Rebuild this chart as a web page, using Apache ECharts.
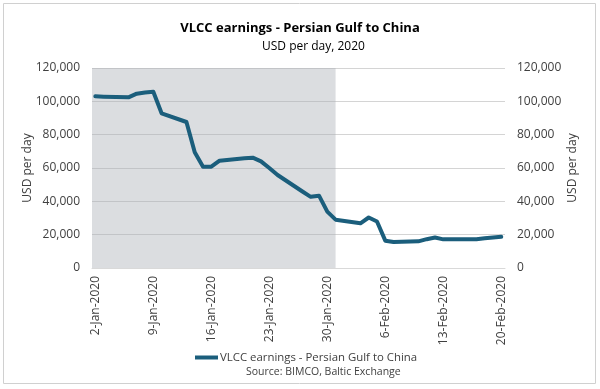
<!DOCTYPE html>
<html><head><meta charset="utf-8">
<script src="https://cdn.jsdelivr.net/npm/echarts@6/dist/echarts.min.js"></script>
<style>html,body{margin:0;padding:0;background:#fff}#c{width:600px;height:389px}</style>
</head><body><div id="c"></div>
<script>
const dates = ["2020-01-02","2020-01-03","2020-01-06","2020-01-07","2020-01-08","2020-01-09","2020-01-10",
"2020-01-13","2020-01-14","2020-01-15","2020-01-16","2020-01-17","2020-01-20","2020-01-21","2020-01-22",
"2020-01-23","2020-01-24","2020-01-27","2020-01-28","2020-01-29","2020-01-30","2020-01-31",
"2020-02-03","2020-02-04","2020-02-05","2020-02-06","2020-02-07","2020-02-10","2020-02-11","2020-02-12",
"2020-02-13","2020-02-14","2020-02-17","2020-02-18","2020-02-19","2020-02-20"];
const earnings = [103000,102800,102400,104600,105300,105800,92800,
87600,69500,60800,60800,64400,65800,66200,64000,
60000,55800,45900,42700,43400,33800,29000,
26800,30300,27900,16400,15600,16000,17300,18300,
17200,17200,17200,17800,18300,18700];
const tickDates = ["2020-01-02","2020-01-09","2020-01-16","2020-01-23","2020-01-30","2020-02-06","2020-02-13","2020-02-20"];
const shadeEnd = "2020-01-31";
const seriesName = "VLCC earnings - Persian Gulf to China";
const titleText = "VLCC earnings - Persian Gulf to China";
const subtitleText = "USD per day, 2020";
const sourceText = "Source: BIMCO, Baltic Exchange";
const yName = "USD per day";

const base = Date.UTC(2020,0,2);
const dayOf = s => { const p=s.split('-').map(Number); return Math.round((Date.UTC(p[0],p[1]-1,p[2])-base)/86400000); };
const months = ["Jan","Feb","Mar","Apr","May","Jun","Jul","Aug","Sep","Oct","Nov","Dec"];
const lbl = v => { const d=new Date(base+v*86400000); return d.getUTCDate()+"-"+months[d.getUTCMonth()]+"-"+d.getUTCFullYear(); };
const data = dates.map((d,i)=>[dayOf(d), earnings[i]]);
const ticks = tickDates.map(dayOf);
const xmin = -0.4, xmax = 49.45;
const font = "'Open Sans', sans-serif";
const txt = '#404040';
const fmt = v => v.toLocaleString('en-US');

const yAxisBase = (pos) => ({
  type:'value', position:pos, min:0, max:120000, interval:20000,
  name:yName, nameLocation:'middle', nameGap:pos==='left'?58:62, nameRotate: 90, nameMoveOverlap:false,
  nameTextStyle:{fontFamily:font,fontSize:12,color:txt},
  axisLine:{show:false}, axisTick:{show:false},
  axisLabel:{fontFamily:font,fontSize:12,color:txt,margin:12,formatter:fmt},
  splitLine:{show:pos==='left',lineStyle:{color:'#d4d4d4',width:1}}
});

const chart = echarts.init(document.getElementById('c'),null,{renderer:'canvas'});
chart.setOption({
  animation:false,
  textStyle:{fontFamily:font},
  title:[
    {text:titleText,left:'center',top:17,textStyle:{fontFamily:font,fontSize:13,fontWeight:'bold',color:'#000'}},
    {text:subtitleText,left:257,top:36,textStyle:{fontFamily:font,fontSize:12,fontWeight:'normal',color:'#000'}},
    {text:sourceText,left:241,top:362,textStyle:{fontFamily:font,fontSize:10.5,fontWeight:'normal',color:txt}}
  ],
  legend:{data:[{name:seriesName,icon:'rect'}],left:190,top:347,itemWidth:23,itemHeight:4,itemGap:2,
    textStyle:{fontFamily:font,fontSize:11.4,color:txt,padding:[0,0,0,-3]}},
  grid:{left:92,right:95,top:68,bottom:121},
  xAxis:{type:'value',min:xmin,max:xmax,
    axisLine:{show:true,onZero:false,lineStyle:{color:'#d9d9d9'}},
    axisTick:{show:false},splitLine:{show:false},
    axisLabel:{customValues:ticks,rotate:90,formatter:lbl,fontFamily:font,fontSize:12,color:txt,margin:8}},
  yAxis:[yAxisBase('left'), yAxisBase('right')],
  series:[{
    name:seriesName,type:'line',data:data,showSymbol:false,symbol:'none',
    lineStyle:{color:'#1b5e7c',width:4,cap:'round',join:'round'},
    itemStyle:{color:'#1b5e7c'},
    z:3,
    markArea:{silent:true,itemStyle:{color:'rgba(170,174,182,0.42)'},
      data:[[{xAxis:xmin,yAxis:0},{xAxis:dayOf(shadeEnd),yAxis:120000}]]}
  }],
  graphic:[{type:'rect',shape:{x:3.5,y:3.5,width:592,height:380},style:{fill:null,stroke:'#d0d0d0',lineWidth:1},silent:true}]
});
</script></body></html>
